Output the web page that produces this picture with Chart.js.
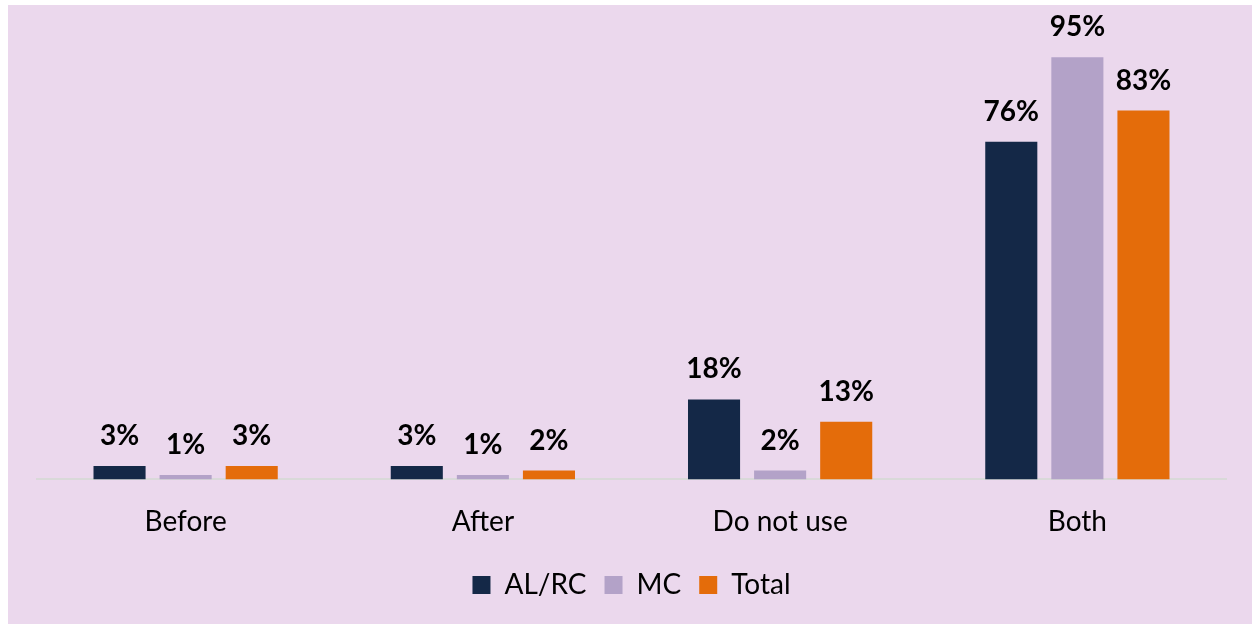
<!DOCTYPE html>
<html>
<head>
<meta charset="utf-8">
<script src="https://cdn.jsdelivr.net/npm/chart.js@4/dist/chart.umd.min.js"></script>
<style>
  html, body { margin: 0; padding: 0; background: #ffffff; }
  #panel {
    position: absolute; left: 8px; top: 5px;
    width: 1244px; height: 619px;
    background: #ebd8ed;
  }
  #chart { display: block; }
</style>
</head>
<body>
<div id="panel"><canvas id="chart" width="1244" height="619"></canvas></div>
<script>
const categories = ["Before", "After", "Do not use", "Both"];
const alrcValues = [3, 3, 18, 76];
const mcValues = [1, 1, 2, 95];
const totalValues = [3, 2, 13, 83];

const FONT = "Lato, 'Open Sans', sans-serif";

// prints "NN%" above each bar
const valueLabels = {
    id: "valueLabels",
    afterDatasetsDraw(chart) {
        const ctx = chart.ctx;
        ctx.save();
        ctx.font = "bold 28px " + FONT;
        ctx.fillStyle = "#000000";
        ctx.textAlign = "center";
        ctx.textBaseline = "alphabetic";
        chart.data.datasets.forEach((ds, i) => {
            chart.getDatasetMeta(i).data.forEach((bar, j) => {
                ctx.fillText(ds.data[j] + "%", bar.x, bar.y - 21);
            });
        });
        ctx.restore();
    }
};

new Chart(document.getElementById("chart"), {
    type: "bar",
    data: {
        labels: categories,
        datasets: [
            { label: "AL/RC", data: alrcValues, backgroundColor: "#142847" },
            { label: "MC", data: mcValues, backgroundColor: "#b3a2c8" },
            { label: "Total", data: totalValues, backgroundColor: "#e46c0a" }
        ]
    },
    options: {
        responsive: false,
        animation: false,
        categoryPercentage: 0.667,
        barPercentage: 0.788,
        layout: { padding: { left: 29, right: 26, top: 30, bottom: 15 } },
        plugins: {
            tooltip: { enabled: false },
            legend: {
                position: "bottom",
                labels: {
                    boxWidth: 18,
                    boxHeight: 18,
                    padding: 18,
                    color: "#000000",
                    font: { family: FONT, size: 28 }
                }
            }
        },
        scales: {
            x: {
                grid: { display: false },
                border: { color: "#d9d9d9", width: 2 },
                ticks: { color: "#000000", padding: 18, font: { family: FONT, size: 28 } },
                // pull the axis closer to the legend
                afterFit(scale) { scale.height -= 4; }
            },
            y: {
                display: false,
                min: 0,
                max: 100
            }
        }
    },
    plugins: [valueLabels]
});
</script>
</body>
</html>
